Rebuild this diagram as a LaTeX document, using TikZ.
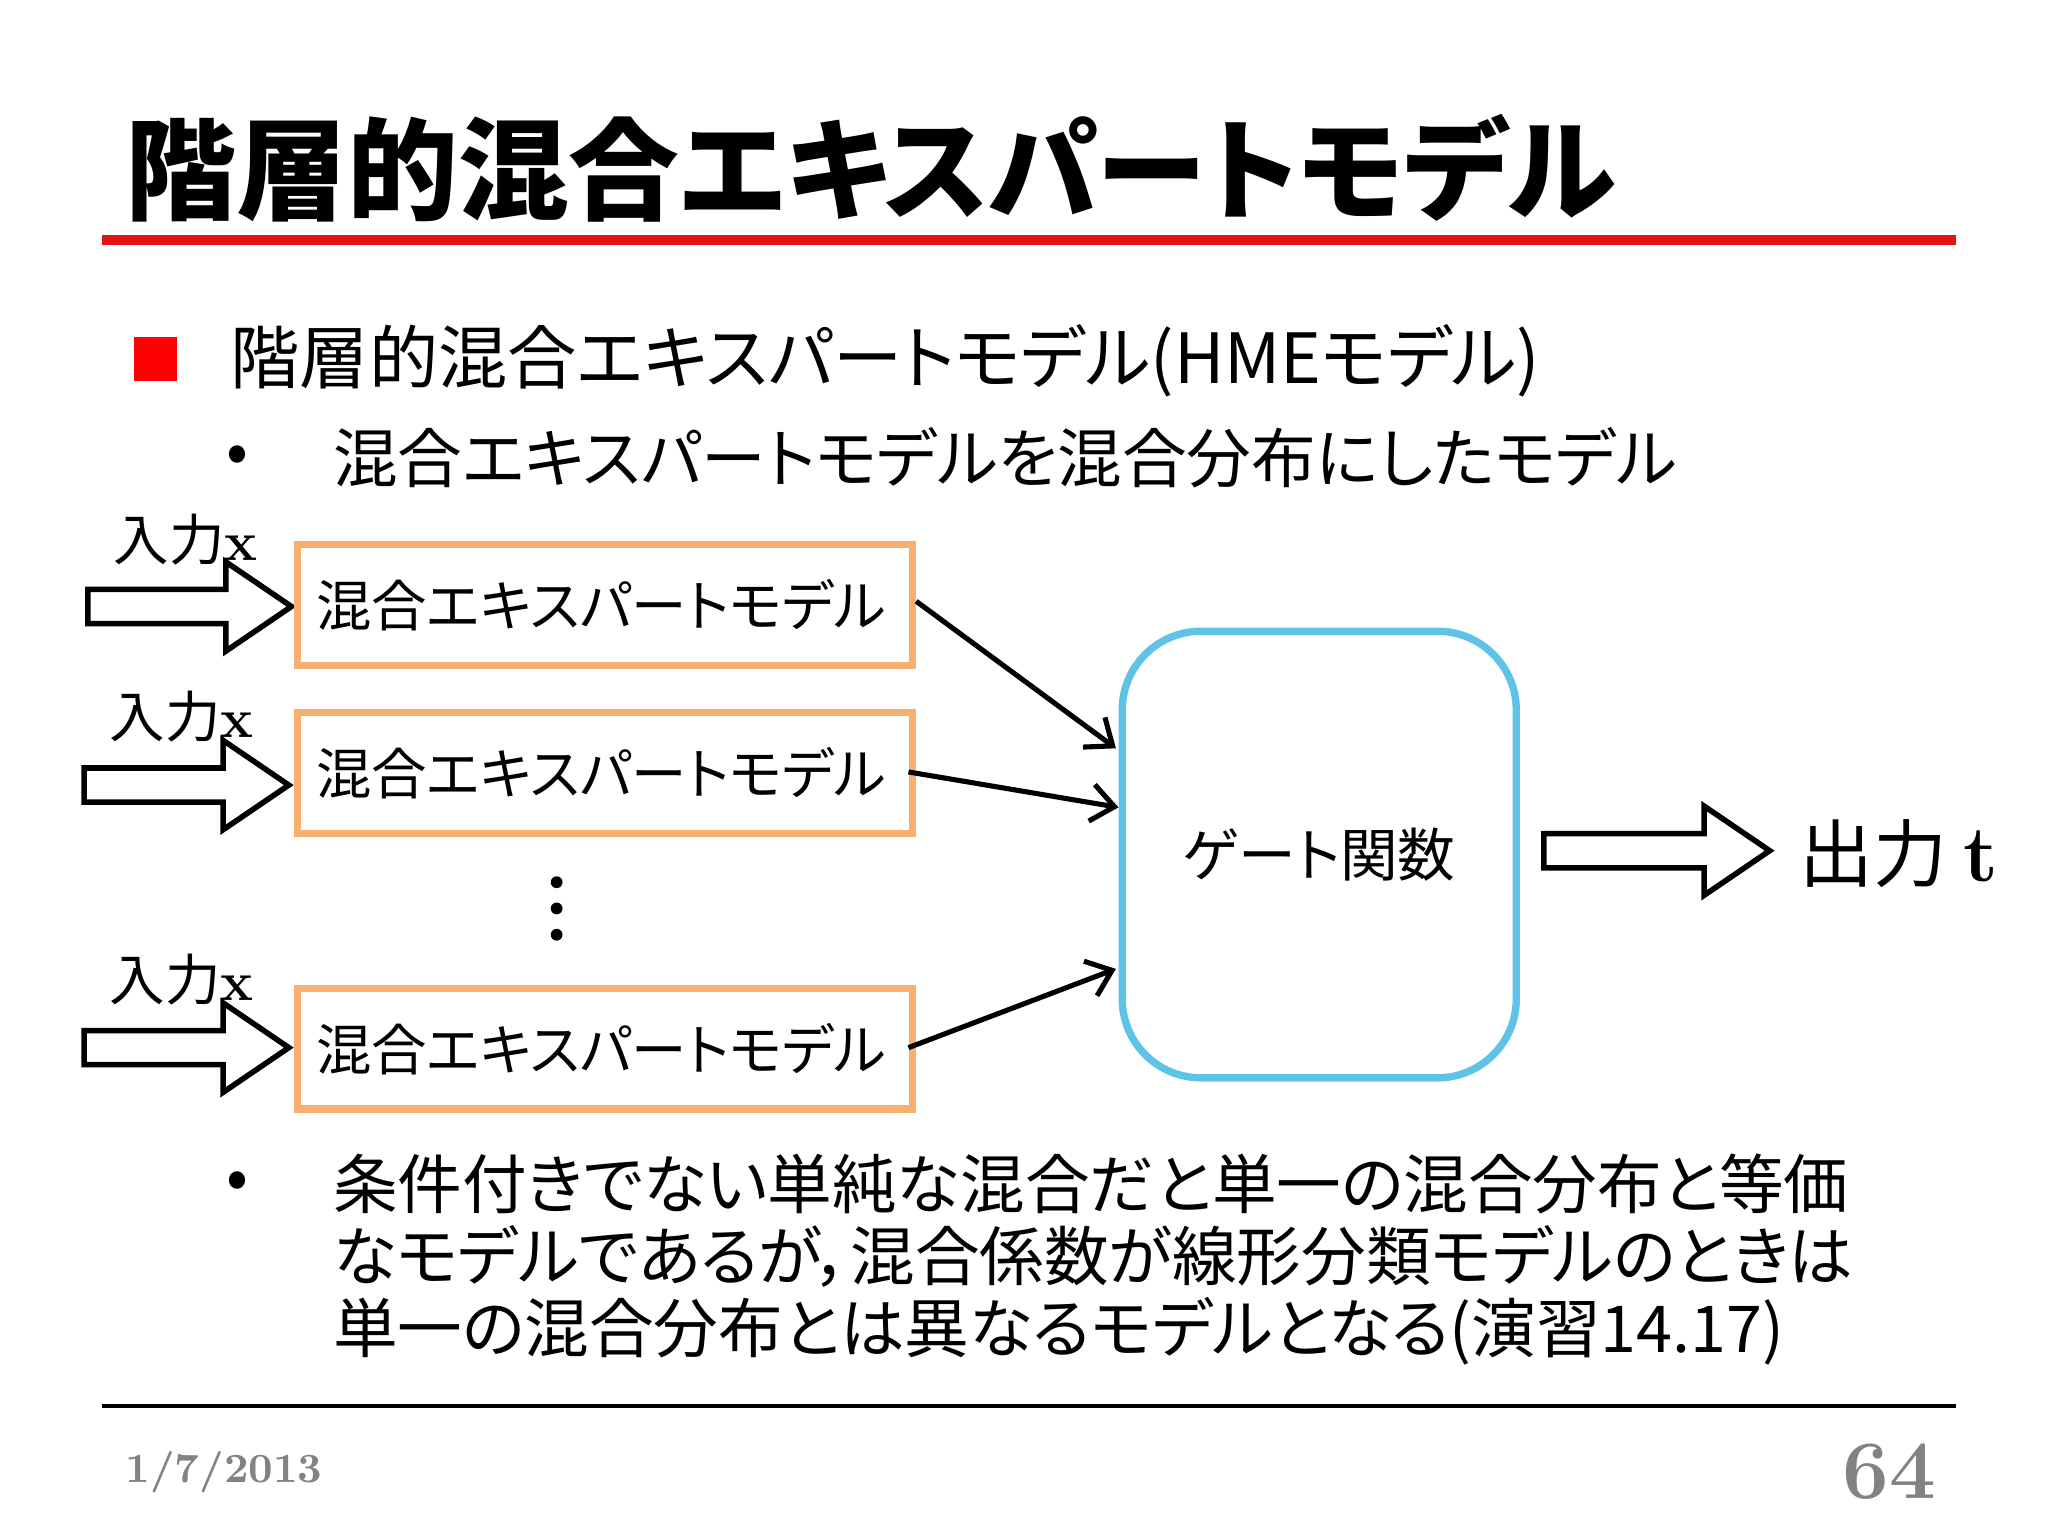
\documentclass[tikz,border=0pt]{standalone}
\usepackage[no-math]{fontspec}
\setmainfont{Noto Sans CJK JP}[RawFeature=+palt]
\newfontfamily\lmr{Latin Modern Roman}
\usetikzlibrary{arrows.meta}
\definecolor{boxor}{RGB}{247,176,112}
\definecolor{gatebl}{RGB}{95,195,232}
\definecolor{titred}{RGB}{225,20,20}
\definecolor{footgr}{RGB}{130,130,130}
\tikzset{
  expbox/.style={draw=boxor,line width=1.6pt,minimum width=4.68cm,minimum height=0.92cm,font=\fontsize{12}{14}\selectfont,anchor=north west,text width=4.4cm,align=left},
  lab/.style={anchor=west,inner sep=0pt},
  conn/.style={-{Straight Barb[length=5pt,width=8pt]},line width=1.1pt},
  pics/harrow/.style={code={\draw[line width=1.2pt,fill=white] (0,-13) -- (#1-50,-13) -- (#1-50,-34) -- (#1,0) -- (#1-50,34) -- (#1-50,13) -- (0,13) -- cycle;}}
}
\begin{document}
\begin{tikzpicture}[x=0.01cm,y=-0.01cm]
\useasboundingbox[fill=white] (0,0) rectangle (1560,1170);
% title
\node[lab] (title) at (95,128) {\fontsize{24}{28}\selectfont\bfseries 階層的混合エキスパートモデル};
\draw[titred,line width=2.2pt] (78,183) -- (1490,183);
% bullets
\fill[red] (102,257) rectangle (135,290);
\node[lab] (b1) at (175,275) {\fontsize{15}{18}\selectfont 階層的混合エキスパートモデル(HMEモデル)};
\node[lab] (d1) at (172,350) {\fontsize{14}{16}\selectfont •};
\node[lab] (b2) at (253,349) {\fontsize{14}{16}\selectfont 混合エキスパートモデルを混合分布にしたモデル};
% inputs
\node[lab] (in1) at (86,411) {\fontsize{12}{14}\selectfont 入力$\mathbf{x}$};
\node[lab] (in2) at (83,546) {\fontsize{12}{14}\selectfont 入力$\mathbf{x}$};
\node[lab] (in3) at (83,746) {\fontsize{12}{14}\selectfont 入力$\mathbf{x}$};
\pic at (67,462) {harrow=155};
\pic at (64,598) {harrow=156};
\pic at (64,798) {harrow=156};
% boxes
\node[expbox] (e1) at (224,412) {混合エキスパートモデル};
\node[expbox] (e2) at (224,540) {混合エキスパートモデル};
\node[expbox] (e3) at (224,750) {混合エキスパートモデル};
\foreach \yy in {672,692,712} \fill (424,\yy) circle (4.5);
% gate
\node[draw=gatebl,line width=1.6pt,rounded corners=0.6cm,minimum width=3cm,minimum height=3.4cm,anchor=north west,font=\fontsize{12.5}{15}\selectfont] (gate) at (852,478) {ゲート関数};
\draw[conn] (e1.north east) ++(0,46) -- (850,570);
\draw[conn] (692,588) -- (852,615);
\draw[conn] (692,798) -- (850,738);
\pic at (1176,648) {harrow=172};
\node[lab] (out) at (1370,650) {\fontsize{16}{18}\selectfont 出力 $\mathbf{t}$};
% bullet 2
\node[lab] (d2) at (172,903) {\fontsize{14}{16}\selectfont •};
\node[anchor=north west,inner sep=0pt,align=left,font=\fontsize{14}{15.6}\selectfont] (b3) at (253,878) {条件付きでない単純な混合だと単一の混合分布と等価\\なモデルであるが，混合係数が線形分類モデルのときは\\単一の混合分布とは異なるモデルとなる(演習14.17)};
% footer
\draw[line width=0.8pt] (78,1071) -- (1490,1071);
\node[lab,text=footgr] (date) at (95,1121) {\lmr\bfseries\fontsize{9}{11}\selectfont 1/7/2013};
\node[lab,text=footgr] (pg) at (1403,1121) {\lmr\bfseries\fontsize{18}{20}\selectfont 64};
\end{tikzpicture}
\end{document}
